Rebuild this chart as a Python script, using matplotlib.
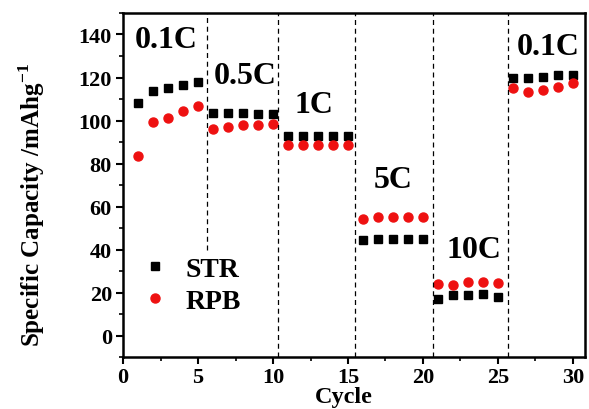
import matplotlib
matplotlib.use("Agg")
import matplotlib.pyplot as plt

# Datos
ciclos = list(range(1, 31))
str_cap = [108, 113.6, 115, 116.3, 117.8,
           103.5, 103.5, 103.5, 103, 103,
           93, 93, 93, 93, 93,
           44.3, 45, 45, 45, 45,
           17, 18.8, 18.8, 19.4, 18,
           119.8, 119.8, 120.3, 121.4, 121.4]
rpb_cap = [83.7, 99.5, 101.4, 104.6, 106.7,
           96.3, 97, 98, 98, 98.6,
           88.8, 88.8, 88.8, 88.8, 88.8,
           54.3, 55, 55, 55, 55,
           24, 23.7, 24.8, 24.8, 24.5,
           114.9, 113.2, 114, 115.7, 117.5]
separadores = [5.6, 10.35, 15.5, 20.7, 25.7]
tasas = ["0.1C", "0.5C", "1C", "5C", "10C", "0.1C"]
tasas_x = [2.9, 8.15, 12.75, 18.0, 23.4, 28.35]
tasas_y = [137.7, 121, 107.5, 72.5, 40, 134.4]

plt.rcParams['font.family'] = ['Liberation Serif', 'DejaVu Serif']
plt.rcParams['font.weight'] = 'bold'
plt.rcParams['mathtext.fontset'] = 'custom'
plt.rcParams['mathtext.rm'] = 'Liberation Serif:bold'
plt.rcParams['mathtext.bf'] = 'Liberation Serif:bold'

fig = plt.figure(figsize=(5.89, 4.10), dpi=100)
ax = fig.add_axes([0.209, 0.126, 0.784, 0.840])

ax.plot(ciclos, str_cap, 's', color='black', ms=5.5, label='STR')
ax.plot(ciclos, rpb_cap, 'o', color='#ee1111', ms=6.5, label='RPB')

# Líneas divisorias entre tasas
for i, xs in enumerate(separadores):
    ymin = 40 if i == 0 else -10
    ax.vlines(xs, ymin, 150, colors='black', linestyles=(0, (4, 3)), linewidth=0.9)

for t, tx, ty in zip(tasas, tasas_x, tasas_y):
    ax.text(tx, ty, t, fontsize=23, fontweight='bold', ha='center', va='center')

ax.set_xlim(0, 30.8)
ax.set_ylim(-10, 150)
ax.set_xticks([0, 5, 10, 15, 20, 25, 30])
ax.set_xticks([2.5, 7.5, 12.5, 17.5, 22.5, 27.5], minor=True)
ax.set_yticks([0, 20, 40, 60, 80, 100, 120, 140])
ax.set_yticks([-10, 10, 30, 50, 70, 90, 110, 130, 150], minor=True)
ax.tick_params(which='major', direction='out', length=5, width=1.5, labelsize=16, pad=3)
ax.tick_params(axis='x', which='major', pad=2)
ax.tick_params(which='minor', direction='out', length=3, width=1.2)
for s in ax.spines.values():
    s.set_linewidth(1.8)

ax.set_xlabel("Cycle", fontsize=17.5, fontweight='bold')
ax.xaxis.set_label_coords(0.478, -0.083)
ax.set_ylabel(r"Specific Capacity /mAhg$^{\mathbf{-1}}$", fontsize=18, fontweight='bold')
ax.yaxis.set_label_coords(-0.165, 0.445)

ax.legend(loc='center left', bbox_to_anchor=(-0.015, 0.21), frameon=False,
          handlelength=1.0, handletextpad=0.6, labelspacing=0.25,
          prop={'weight': 'bold', 'size': 20})

fig.savefig("out.png", dpi=100)
